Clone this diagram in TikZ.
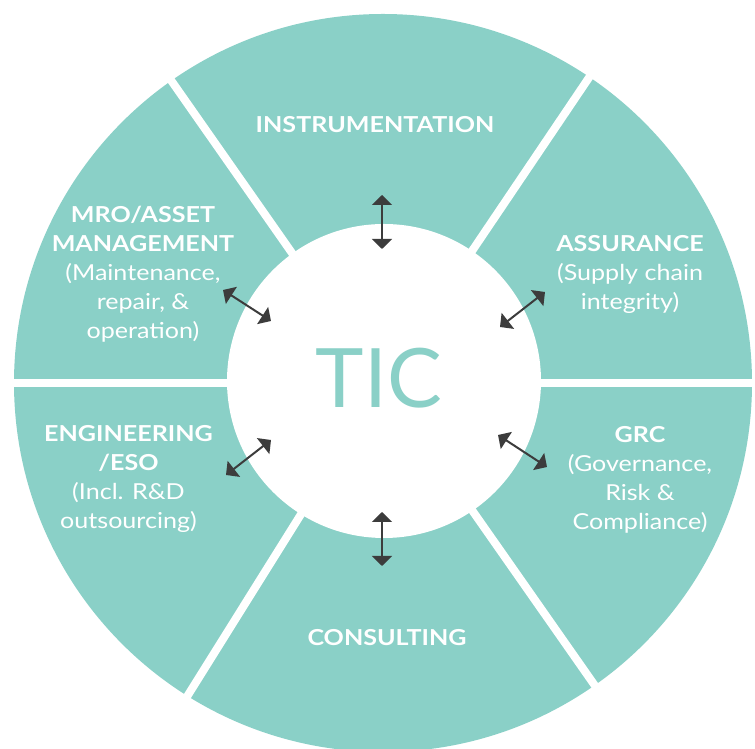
\documentclass[tikz,border=0pt]{standalone}
\usepackage{fontspec}
\setmainfont{Lato}[FakeStretch=1.14]
\newfontfamily\ticfont{Lato}
\usetikzlibrary{arrows.meta}
\definecolor{ticteal}{RGB}{138,208,199}
\definecolor{arrowgray}{RGB}{60,60,60}
\tikzstyle{seclabel} = [text=white, align=center, inner sep=0pt, font=\fontsize{22}{29}\selectfont]
\tikzstyle{sep} = [draw=white, line width=8pt]
\tikzstyle{line} = [draw=arrowgray, line width=2pt, {Triangle[length=10pt,width=20pt]}-{Triangle[length=10pt,width=20pt]}]

\begin{document}
\begin{tikzpicture}[x=1pt, y=1pt]
    \useasboundingbox (0,0) rectangle (755,749);
    \clip (0,0) rectangle (755,749);
    \coordinate (ctr) at (383,366);
    \fill[ticteal] (ctr) circle (369);
    \foreach \a in {0,56,125,180,238,305}
        \path [sep] (ctr) -- ++(\a:400);
    \fill[white] (384,368) circle (157);
    \node [inner sep=0pt, text=ticteal, font=\ticfont\fontsize{82}{82}\selectfont] (tic) at (378.7,370.5) {TIC};
    \node [seclabel] (instr) at (375,624) {\textbf{INSTRUMENTATION}};
    \node [seclabel] (mro) at (143,475) {\textbf{MRO/ASSET}\\\textbf{MANAGEMENT}\\(Maintenance,\\repair, \&\\operation)};
    \node [seclabel] (assur) at (630,474.5) {\textbf{ASSURANCE}\\(Supply chain\\integrity)};
    \node [seclabel] (grc) at (640,269.3) {\textbf{GRC}\\(Governance,\\Risk \&\\Compliance)};
    \node [seclabel] (eng) at (128.5,270) {\textbf{ENGINEERING}\\\textbf{/ESO}\\(Incl. R\&D\\outsourcing)};
    \node [seclabel] (cons) at (387,111) {\textbf{CONSULTING}};
    \coordinate (instr-o) at (382,554);
    \coordinate (instr-i) at (382,500);
    \coordinate (cons-i) at (382,237);
    \coordinate (cons-o) at (382,183);
    \coordinate (mro-o) at (223,459);
    \coordinate (mro-i) at (271,428);
    \coordinate (assur-o) at (545,457);
    \coordinate (assur-i) at (500,422);
    \coordinate (eng-i) at (271,309);
    \coordinate (eng-o) at (226,274);
    \coordinate (grc-i) at (498,314);
    \coordinate (grc-o) at (547,282);
    \path [line] (instr-o) -- (instr-i);
    \path [line] (cons-i) -- (cons-o);
    \path [line] (mro-o) -- (mro-i);
    \path [line] (assur-o) -- (assur-i);
    \path [line] (eng-i) -- (eng-o);
    \path [line] (grc-i) -- (grc-o);
\end{tikzpicture}
\end{document}
